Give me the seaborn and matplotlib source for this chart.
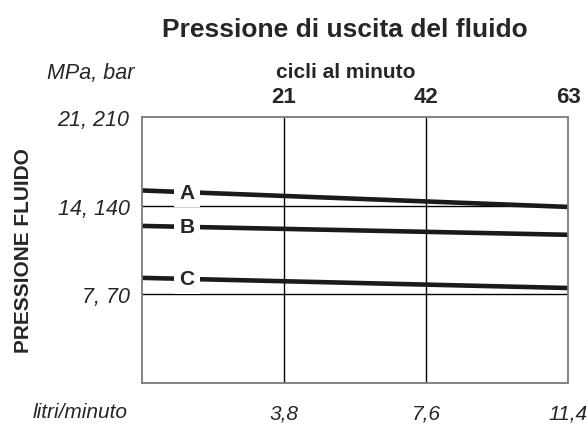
import matplotlib
matplotlib.use("Agg")
import matplotlib.pyplot as plt
import seaborn as sns
import pandas as pd

# portata (litri/minuto) e pressione (MPa) per le curve A, B, C
portata = [0.0, 11.4]
curva_a = [15.2, 13.9]
curva_b = [12.4, 11.7]
curva_c = [8.3, 7.5]
nomi = ["A", "B", "C"]

x_ticks = [3.8, 7.6, 11.4]
x_labels = ["3,8", "7,6", "11,4"]
y_ticks = [7, 14, 21]
y_labels = ["7, 70", "14, 140", "21, 210"]
cicli = [21, 42, 63]

df = pd.DataFrame({
    "portata": portata * 3,
    "pressione": curva_a + curva_b + curva_c,
    "curva": [n for n in nomi for _ in portata],
})

sns.set_theme(style="white")
plt.rcParams["font.family"] = ["Liberation Sans", "DejaVu Sans"]

fig = plt.figure(figsize=(5.88, 4.27), dpi=100)
ax = fig.add_axes([0.2415, 0.1007, 0.7245, 0.623])

sns.lineplot(data=df, x="portata", y="pressione", hue="curva",
             palette=["#1a1a1a"] * 3, linewidth=3.3, legend=False, ax=ax)

ax.set_xlim(0, 11.4)
ax.set_ylim(0, 21)
ax.set_xticks(x_ticks)
ax.set_xticklabels(x_labels, fontsize=15, style="italic")
ax.set_yticks(y_ticks)
ax.set_yticklabels(y_labels, fontsize=15.5, style="italic")
ax.tick_params(axis="x", length=0, pad=15)
ax.tick_params(axis="y", length=0, pad=9)
ax.set_xlabel("")
ax.set_ylabel("PRESSIONE FLUIDO", fontsize=15, fontweight="bold", labelpad=18)

for v in x_ticks[:-1]:
    ax.axvline(v, color="black", lw=1, zorder=1)
for v in y_ticks[:-1]:
    ax.axhline(v, color="black", lw=1, zorder=1)
for s in ax.spines.values():
    s.set_color("#7a7a7a")
    s.set_linewidth(1.3)

# etichette delle curve
for nome, vals in zip(nomi, [curva_a, curva_b, curva_c]):
    xl = 1.2
    yl = vals[0] + (vals[1] - vals[0]) * xl / portata[1]
    ax.text(xl, yl, nome, fontsize=15, fontweight="bold", ha="center", va="center",
            bbox=dict(facecolor="white", edgecolor="none", pad=4), zorder=5)

top = ax.twiny()
top.set_xlim(0, 63)
top.set_xticks(cicli)
top.set_xticklabels([str(c) for c in cicli], fontsize=16, fontweight="bold")
top.tick_params(axis="x", length=0, pad=7)
for s in top.spines.values():
    s.set_visible(False)

fig.text(0.588, 0.83, "cicli al minuto", fontsize=15, fontweight="bold", ha="center", va="center")
fig.text(0.155, 0.828, "MPa, bar", fontsize=15.5, style="italic", ha="center", va="center")
fig.text(0.136, 0.035, "litri/minuto", fontsize=15, style="italic", ha="center", va="center")
fig.text(0.587, 0.93, "Pressione di uscita del fluido", fontsize=19, fontweight="bold",
         ha="center", va="center")

fig.savefig("out.png", dpi=100, facecolor="white")
